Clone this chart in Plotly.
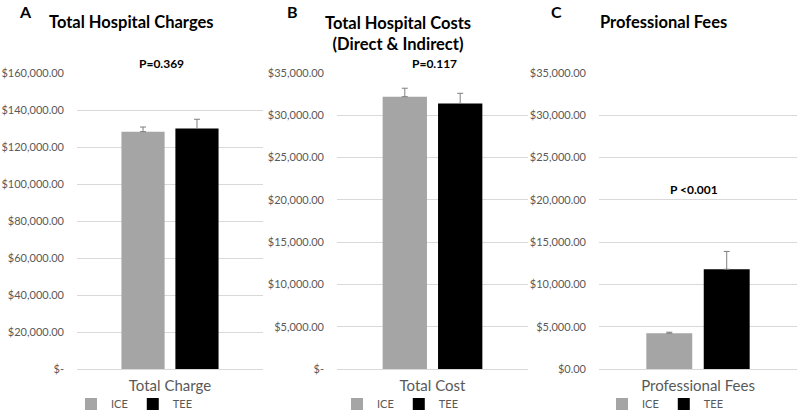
import plotly.graph_objects as go

# ---- data ----
groups = ["ICE", "TEE"]
charge_cat = ["Total Charge"]
charge_vals = [128300, 130000]
charge_err = [2500, 5000]

cost_cat = ["Total Cost"]
cost_vals = [32200, 31400]
cost_err = [1000, 1200]

fee_cat = ["Professional Fees"]
fee_vals = [4230, 11800]
fee_err = [120, 2100]

colors = {"ICE": "#a5a5a5", "TEE": "#000000"}
err_colors = {"ICE": "#7f7f7f", "TEE": "#7f7f7f"}

charge_ticks = [0, 20000, 40000, 60000, 80000, 100000, 120000, 140000, 160000]
charge_ticktext = ["$-"] + [f"${v:,.2f}" for v in charge_ticks[1:]]
cost_ticks = [0, 5000, 10000, 15000, 20000, 25000, 30000, 35000]
cost_ticktext = ["$-"] + [f"${v:,.2f}" for v in cost_ticks[1:]]
fee_ticks = cost_ticks
fee_ticktext = [f"${v:,.2f}" for v in fee_ticks]

FONT = "Lato"
fig = go.Figure()

panels = [
    ("x", "y", "legend", charge_cat, charge_vals, charge_err),
    ("x2", "y2", "legend2", cost_cat, cost_vals, cost_err),
    ("x3", "y3", "legend3", fee_cat, fee_vals, fee_err),
]
for xa, ya, lg, cat, vals, errs in panels:
    for i, g in enumerate(groups):
        fig.add_trace(go.Bar(
            x=cat, y=[vals[i]], name=g, xaxis=xa, yaxis=ya, legend=lg,
            marker=dict(color=colors[g], line=dict(width=0)),
            offsetgroup=g,
            error_y=dict(type="data", symmetric=False, array=[errs[i]],
                         arrayminus=[0], color=err_colors[g],
                         thickness=1, width=3),
        ))

W, H = 800, 415
def px_x(p):
    return p / W
def px_y(p):
    return 1 - p / H

ydom = [px_y(369), px_y(73)]
axis_font = dict(family=FONT, size=11, color="#595959")
cat_font = dict(family=FONT, size=15, color="#595959")

common_y = dict(showgrid=True, gridcolor="#d9d9d9", gridwidth=1, zeroline=True,
                zerolinecolor="#d9d9d9", zerolinewidth=1, showline=False,
                ticks="", tickfont=axis_font, domain=ydom, ticklabelstandoff=12)
common_x = dict(showgrid=False, zeroline=False, showline=False, ticks="",
                tickfont=cat_font, ticklabelstandoff=6)

fig.update_layout(
    width=W, height=H,
    margin=dict(l=0, r=0, t=0, b=0, autoexpand=False),
    paper_bgcolor="white", plot_bgcolor="white",
    barmode="group", bargap=0.42, bargroupgap=0.2,
    font=dict(family=FONT),
    xaxis=dict(domain=[px_x(77), px_x(263)], anchor="y", **common_x),
    xaxis2=dict(domain=[px_x(337), px_x(528)], anchor="y2", **common_x),
    xaxis3=dict(domain=[px_x(599), px_x(797)], anchor="y3", **common_x),
    yaxis=dict(anchor="x", range=[0, 160000], tickvals=charge_ticks,
               ticktext=charge_ticktext, **common_y),
    yaxis2=dict(anchor="x2", range=[0, 35000], tickvals=cost_ticks,
                ticktext=cost_ticktext, **common_y),
    yaxis3=dict(anchor="x3", range=[0, 35000], tickvals=fee_ticks,
                ticktext=fee_ticktext, **common_y),
)

leg_common = dict(orientation="h", xanchor="center", yanchor="middle",
                  font=dict(family=FONT, size=11, color="#595959"),
                  bgcolor="rgba(0,0,0,0)", itemwidth=30, traceorder="normal",
                  tracegroupgap=0, entrywidth=0)
fig.update_layout(
    legend=dict(x=px_x(134), y=px_y(404), **leg_common),
    legend2=dict(x=px_x(400), y=px_y(404), **leg_common),
    legend3=dict(x=px_x(665), y=px_y(404), **leg_common),
)

ann = []
def add_text(text, x, y, size, bold=True, color="#000000"):
    ann.append(dict(text=f"<b>{text}</b>" if bold else text, x=px_x(x), y=px_y(y),
                    xref="paper", yref="paper", showarrow=False,
                    xanchor="center", yanchor="middle",
                    font=dict(family=FONT, size=size, color=color)))

add_text("A", 25, 11, 16)
add_text("B", 292, 11, 16)
add_text("C", 556, 11, 16)
add_text("Total Hospital Charges", 131, 22, 16.5)
add_text("Total Hospital Costs<br>(Direct &amp; Indirect)", 398, 33, 16.5)
add_text("Professional Fees", 663, 22, 16.5)
add_text("P=0.369", 161, 64, 12)
add_text("P=0.117", 435, 64, 12)
add_text("P &lt;0.001", 694, 189, 12)
fig.update_layout(annotations=ann)

fig.write_html("out.html", config={"displayModeBar": False},
               post_script="document.body.style.margin='0';document.body.style.overflow='hidden';")
